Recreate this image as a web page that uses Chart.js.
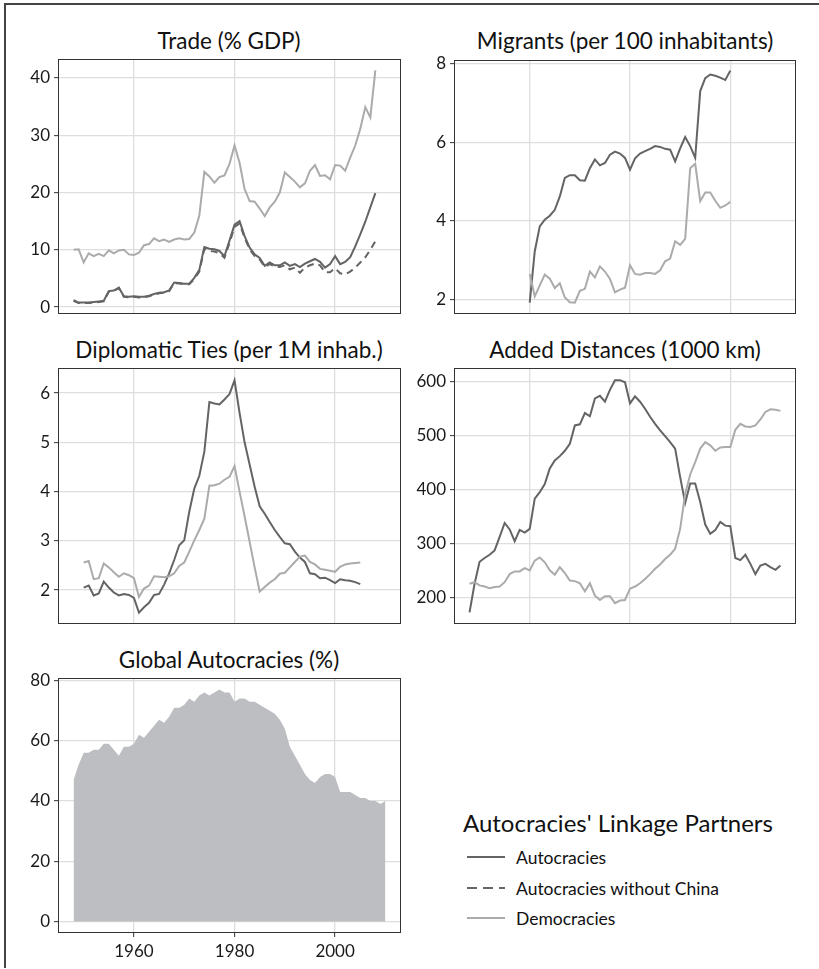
<!DOCTYPE html>
<html>
<head>
<meta charset="utf-8">
<script src="https://cdn.jsdelivr.net/npm/chart.js@4.4.1/dist/chart.umd.min.js"></script>
<style>
  body { margin: 0; background: #fff; font-family: Lato, "DejaVu Sans", sans-serif; color: #111; }
  #page { position: relative; width: 819px; height: 969px; overflow: hidden; }
  #frame { position: absolute; left: 4px; top: 3px; width: 815px; height: 963px;
           border-top: 2px solid #444; border-left: 2px solid #444; }
  canvas { position: absolute; }
  .title { position: absolute; font-size: 22.5px; white-space: nowrap; transform: translate(-50%, -50%); }
  .leg-title { position: absolute; font-size: 24px; white-space: nowrap; transform: translateY(-50%); }
  .leg-item { position: absolute; font-size: 17.5px; white-space: nowrap; transform: translateY(-50%); }
</style>
</head>
<body>
<div id="page">
  <div id="frame"></div>

  <div class="title" style="left:229px;top:40px">Trade (% GDP)</div>
  <div class="title" style="left:625px;top:40px">Migrants (per 100 inhabitants)</div>
  <div class="title" style="left:229px;top:349px">Diplomatic Ties (per 1M inhab.)</div>
  <div class="title" style="left:625px;top:349px">Added Distances (1000 km)</div>
  <div class="title" style="left:229px;top:659px">Global Autocracies (%)</div>

  <canvas id="trade"></canvas>
  <canvas id="migrants"></canvas>
  <canvas id="diplo"></canvas>
  <canvas id="dist"></canvas>
  <canvas id="global"></canvas>

  <div class="leg-title" style="left:463px;top:822px">Autocracies' Linkage Partners</div>
  <svg style="position:absolute;left:460px;top:840px" width="60" height="90">
    <line x1="7" y1="17" x2="45" y2="17" stroke="#646464" stroke-width="2"/>
    <line x1="7" y1="48" x2="45" y2="48" stroke="#646464" stroke-width="2" stroke-dasharray="10,6"/>
    <line x1="7" y1="78" x2="45" y2="78" stroke="#ababab" stroke-width="2"/>
  </svg>
  <div class="leg-item" style="left:516px;top:857px">Autocracies</div>
  <div class="leg-item" style="left:516px;top:888px">Autocracies without China</div>
  <div class="leg-item" style="left:516px;top:918px">Democracies</div>
</div>

<script>
// years shared by every panel
const years = [1948,1949,1950,1951,1952,1953,1954,1955,1956,1957,1958,1959,
  1960,1961,1962,1963,1964,1965,1966,1967,1968,1969,
  1970,1971,1972,1973,1974,1975,1976,1977,1978,1979,
  1980,1981,1982,1983,1984,1985,1986,1987,1988,1989,
  1990,1991,1992,1993,1994,1995,1996,1997,1998,1999,
  2000,2001,2002,2003,2004,2005,2006,2007,2008,2009,2010];
const yearTicks = [1960, 1980, 2000];

// Trade (% GDP), 1948-2008
const tradeAuto = [1.2,0.8,0.8,0.8,0.9,1.0,1.1,2.8,2.9,3.4,1.9,1.8,
  1.9,1.8,1.8,2.0,2.3,2.5,2.6,2.9,4.3,4.2,
  4.1,4.1,5.1,6.5,10.5,10.2,10.1,9.8,8.9,11.6,
  14.4,15.0,12.4,10.4,9.2,8.6,7.2,7.8,7.3,7.3,
  7.8,7.2,7.5,7.0,7.6,8.0,8.4,7.9,6.9,7.5,
  8.9,7.5,7.9,8.7,10.6,12.7,14.9,17.4,19.9,null,null];
const tradeNoChina = [1.1,0.7,0.7,0.7,0.8,0.9,1.0,2.7,2.8,3.3,1.8,1.7,
  1.8,1.7,1.7,1.9,2.2,2.4,2.5,2.8,4.2,4.1,
  4.0,4.0,4.9,6.2,10.2,9.8,9.7,9.4,8.6,11.2,
  14.0,14.6,12.1,10.1,8.9,8.3,7.0,7.5,7.1,7.0,
  7.3,6.6,6.9,6.0,6.9,7.3,7.6,7.3,6.1,6.1,
  6.8,5.9,5.7,6.2,6.9,7.8,8.7,10.0,11.5,null,null];
const tradeDemo = [10.0,10.1,7.8,9.4,8.9,9.3,8.9,9.9,9.4,9.9,10.0,9.2,
  9.1,9.5,10.8,11.0,12.0,11.5,11.8,11.4,11.8,12.0,
  11.8,11.9,13.0,16.0,23.6,22.8,21.7,22.7,23.0,25.0,
  28.2,25.2,20.6,18.5,18.4,17.2,15.9,17.4,18.4,20.0,
  23.5,22.7,21.9,20.9,21.6,23.8,24.8,22.9,23.0,22.3,
  24.8,24.7,23.8,26.1,28.2,31.1,34.9,33.1,41.3,null,null];

// Migrants (per 100 inhabitants), 1960-2000
const migAuto = [null,null,null,null,null,null,null,null,null,null,null,null,
  1.92,3.22,3.86,4.03,4.13,4.28,4.62,5.09,5.16,5.16,
  5.03,5.02,5.34,5.56,5.41,5.47,5.68,5.76,5.71,5.60,
  5.30,5.59,5.71,5.77,5.83,5.90,5.88,5.83,5.81,5.51,
  5.84,6.13,5.90,5.60,7.30,7.63,7.72,7.69,7.64,7.58,
  7.82,null,null,null,null,null,null,null,null,null,null];
const migDemo = [null,null,null,null,null,null,null,null,null,null,null,null,
  2.65,2.08,2.36,2.63,2.53,2.29,2.41,2.05,1.93,1.92,
  2.22,2.27,2.71,2.56,2.84,2.71,2.52,2.18,2.25,2.30,
  2.87,2.65,2.63,2.67,2.67,2.65,2.74,2.97,3.04,3.48,
  3.39,3.54,5.34,5.45,4.50,4.72,4.72,4.51,4.33,4.39,
  4.48,null,null,null,null,null,null,null,null,null,null];

// Diplomatic ties (per 1M inhabitants), 1950-2005
const diploAuto = [null,null,2.05,2.09,1.89,1.93,2.17,2.05,1.95,1.89,1.92,1.90,
  1.84,1.54,1.65,1.74,1.90,1.92,2.11,2.34,2.61,2.91,
  3.01,3.59,4.06,4.32,4.81,5.82,5.79,5.77,5.87,5.98,
  6.26,5.60,5.00,4.55,4.10,3.70,3.55,3.38,3.22,3.08,
  2.95,2.93,2.78,2.66,2.57,2.34,2.32,2.24,2.25,2.20,
  2.14,2.22,2.20,2.19,2.16,2.12,null,null,null,null,null];
const diploDemo = [null,null,2.56,2.59,2.22,2.24,2.54,2.46,2.36,2.27,2.34,2.30,
  2.24,1.86,2.03,2.09,2.28,2.27,2.26,2.28,2.34,2.49,
  2.56,2.78,3.01,3.22,3.45,4.12,4.13,4.16,4.24,4.30,
  4.52,4.00,3.50,2.98,2.46,1.97,2.06,2.15,2.22,2.33,
  2.35,2.46,2.57,2.68,2.70,2.57,2.52,2.43,2.41,2.39,
  2.37,2.47,2.52,2.54,2.55,2.56,null,null,null,null,null];

// Added distances (1000 km), 1948-2010
const distAuto = [172,225,266,273,279,287,312,338,326,304,325,320,
  327,383,395,410,439,454,462,472,485,519,
  521,542,536,569,574,563,585,603,603,599,
  560,573,563,550,535,522,510,499,488,476,
  423,375,411,411,377,335,318,325,340,333,
  332,273,269,279,262,243,259,262,256,251,259];
const distDemo = [225,228,222,220,217,219,220,228,243,248,248,254,
  250,268,274,265,250,242,256,245,231,230,
  226,211,226,203,195,202,202,189,194,195,
  216,220,226,234,243,253,261,271,279,290,
  327,392,428,451,476,488,482,472,478,479,
  479,511,522,517,516,519,530,544,549,548,546];

// Global autocracies (%), 1948-2010
const globalAuto = [47,52,56,56,57,57,59,59,57,55,58,58,
  59,62,61,63,65,67,66,68,71,71,
  72,74,73,75,76,75,76,77,76,76,
  73,74,74,73,73,72,71,70,69,67,
  64,58,55,52,49,47,46,48,49,49,
  48,43,43,43,42,41,41,40,40,39,40];

const DARK = '#646464';
const LIGHT = '#ababab';
const GRID = '#dedede';
const FONT = 'Lato, "DejaVu Sans", sans-serif';
const M = 12; // spare room round each plot box for labels

function pts(vals) {
  return years.map((yr, i) => ({ x: yr, y: vals[i] }));
}

// draws the black box round the plotting area
const panelBorder = {
  id: 'panelBorder',
  afterDraw(chart) {
    const a = chart.chartArea;
    const c = chart.ctx;
    c.save();
    c.strokeStyle = '#333';
    c.lineWidth = 1;
    c.strokeRect(a.left + 0.5, a.top + 0.5, a.right - a.left - 1, a.bottom - a.top - 1);
    c.restore();
  }
};

function noPad(s) {
  s.paddingTop = 0; s.paddingBottom = 0; s.paddingLeft = 0; s.paddingRight = 0;
}

function makePanel(id, box, yMin, yMax, yTicks, datasets, showYears) {
  const cv = document.getElementById(id);
  const w = box.r - box.l + 58 + M;
  const h = box.b - box.t + M + (showYears ? 30 : M);
  cv.width = w; cv.height = h;
  cv.style.left = (box.l - 58) + 'px';
  cv.style.top = (box.t - M) + 'px';
  cv.style.width = w + 'px';
  cv.style.height = h + 'px';

  new Chart(cv, {
    type: 'line',
    data: { datasets: datasets },
    options: {
      responsive: false,
      animation: false,
      devicePixelRatio: 1,
      layout: { padding: { top: M, right: M, bottom: showYears ? 0 : M, left: 0 } },
      plugins: { legend: { display: false }, tooltip: { enabled: false } },
      elements: { point: { radius: 0 }, line: { borderWidth: 2, tension: 0 } },
      scales: {
        x: {
          type: 'linear',
          min: 1944.9,
          max: 2013.1,
          afterBuildTicks: s => { s.ticks = yearTicks.map(v => ({ value: v })); },
          afterFit: s => { s.height = showYears ? 30 : 0; noPad(s); },
          border: { display: false },
          grid: { color: GRID, lineWidth: 1.3, drawTicks: showYears, tickLength: 4,
                  tickColor: '#333', tickWidth: 1 },
          ticks: { display: showYears, padding: 4, color: '#1a1a1a',
                   font: { family: FONT, size: 17 }, callback: v => String(v) }
        },
        y: {
          min: yMin,
          max: yMax,
          afterBuildTicks: s => { s.ticks = yTicks.map(v => ({ value: v })); },
          afterFit: s => { s.width = 58; noPad(s); },
          border: { display: false },
          grid: { color: GRID, lineWidth: 1.3, tickLength: 4, tickColor: '#333', tickWidth: 1 },
          ticks: { padding: 4, color: '#1a1a1a', font: { family: FONT, size: 17 } }
        }
      }
    },
    plugins: [panelBorder]
  });
}

function line(vals, color, dash) {
  return { data: pts(vals), borderColor: color, borderWidth: 2, borderDash: dash || [],
           fill: false, pointRadius: 0 };
}

makePanel('trade', { l: 58, t: 59, r: 401, b: 314 }, -1.2, 43.3, [0, 10, 20, 30, 40], [
  line(tradeDemo, LIGHT),
  line(tradeNoChina, DARK, [7, 5]),
  line(tradeAuto, DARK)
], false);

makePanel('migrants', { l: 454, t: 60, r: 796, b: 314 }, 1.63, 8.09, [2, 4, 6, 8], [
  line(migDemo, LIGHT),
  line(migAuto, DARK)
], false);

makePanel('diplo', { l: 58, t: 368, r: 401, b: 624 }, 1.31, 6.51, [2, 3, 4, 5, 6], [
  line(diploDemo, LIGHT),
  line(diploAuto, DARK)
], false);

makePanel('dist', { l: 454, t: 368, r: 796, b: 624 }, 150.4, 625.6, [200, 300, 400, 500, 600], [
  line(distDemo, LIGHT),
  line(distAuto, DARK)
], false);

makePanel('global', { l: 58, t: 678, r: 401, b: 933 }, -3.85, 80.85, [0, 20, 40, 60, 80], [
  { data: pts(globalAuto), borderWidth: 0, borderColor: 'rgba(0,0,0,0)',
    backgroundColor: '#bdbec2', fill: 'origin', pointRadius: 0 }
], true);
</script>
</body>
</html>
